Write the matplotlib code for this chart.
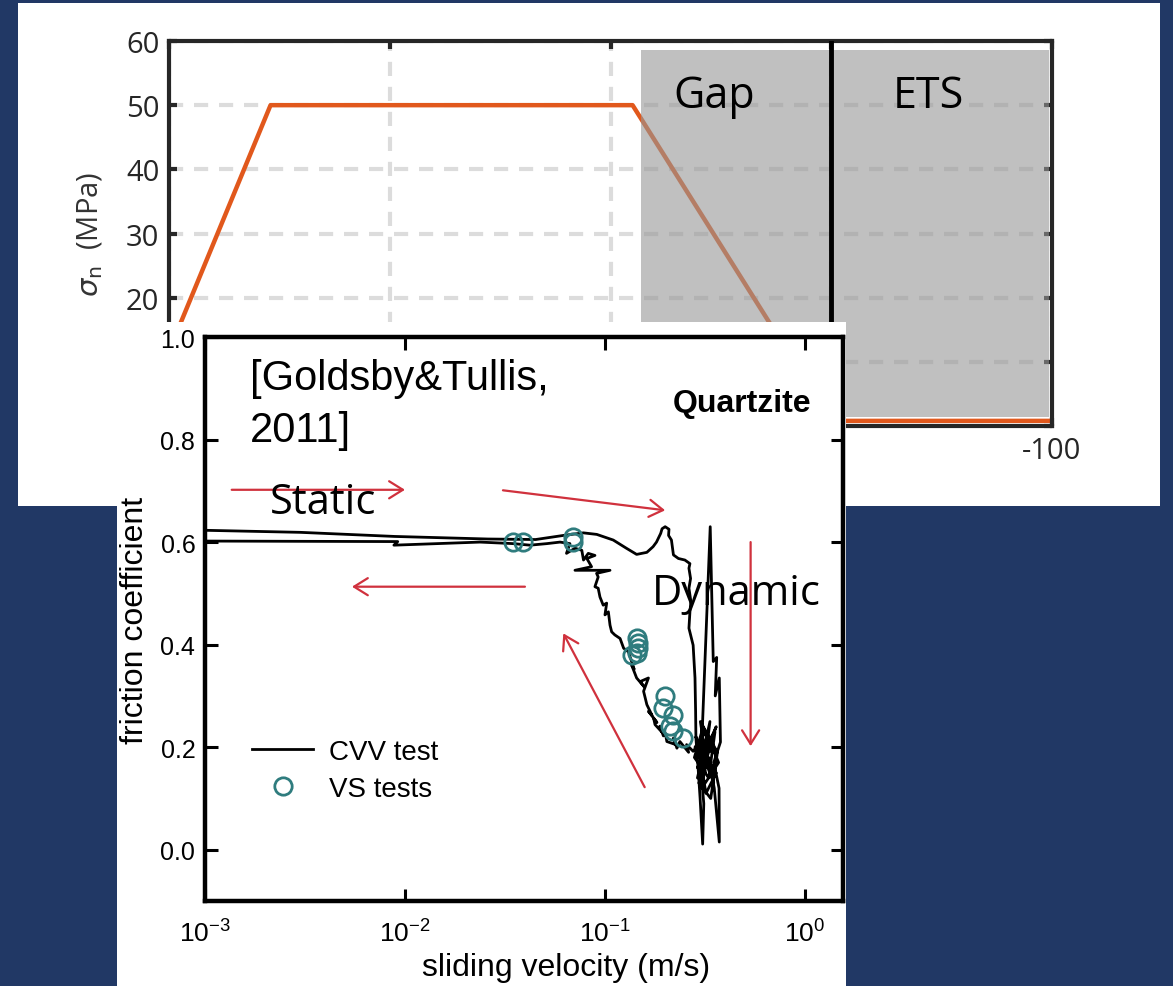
import matplotlib.pyplot as plt
from matplotlib.patches import Rectangle
from matplotlib.ticker import NullLocator, FormatStrFormatter

plt.rcParams['font.family'] = ['Liberation Sans', 'DejaVu Sans']
plt.rcParams['mathtext.default'] = 'regular'

# ---- upper panel: normal stress profile ----
sn_x = [314, 254, 90, 0, -100]
sn_y = [0, 50, 50, 0.8, 0.8]
sn_xticks = [300, 200, 100, 0, -100]
# labels covered by the lower figure are left blank
sn_xticklabels = ['', '', '', '0', '-100']
sn_yticks = [0, 10, 20, 30, 40, 50, 60]
sn_yticklabels = ['', '', '20', '30', '40', '50', '60']
gap_x = [86, -98.6]
gap_y = [1.4, 58.6]

# ---- lower panel: Goldsby & Tullis 2011, quartzite ----
# CVV test trace: acceleration branch, slip burst, deceleration branch
accel_v = [0.001, 0.003, 0.0089, 0.026, 0.045, 0.062, 0.078, 0.091, 0.110, 0.128,
           0.144, 0.162, 0.174, 0.181, 0.190, 0.193, 0.200, 0.209, 0.208, 0.215,
           0.220, 0.233, 0.251, 0.266, 0.263, 0.268, 0.263, 0.269, 0.266, 0.263,
           0.276, 0.282, 0.284, 0.285, 0.293, 0.299, 0.304, 0.308]
accel_mu = [0.623, 0.619, 0.611, 0.606, 0.605, 0.613, 0.618, 0.615, 0.604, 0.588,
            0.576, 0.580, 0.591, 0.600, 0.617, 0.626, 0.630, 0.625, 0.613, 0.604,
            0.575, 0.568, 0.565, 0.558, 0.549, 0.529, 0.510, 0.484, 0.464, 0.432,
            0.399, 0.335, 0.270, 0.218, 0.153, 0.101, 0.049, 0.011]
slip_v = [0.312, 0.300, 0.318, 0.305, 0.336, 0.348, 0.362, 0.356, 0.373, 0.378,
          0.350, 0.372, 0.373, 0.352, 0.330, 0.290, 0.340, 0.300, 0.360, 0.320,
          0.290, 0.345, 0.310, 0.280, 0.330, 0.355, 0.295, 0.338, 0.365, 0.300,
          0.325, 0.285, 0.350, 0.315, 0.360, 0.290, 0.335, 0.305, 0.370, 0.320,
          0.282, 0.345, 0.298, 0.276]
slip_mu = [0.090, 0.170, 0.150, 0.210, 0.630, 0.367, 0.375, 0.300, 0.335, 0.210,
           0.170, 0.120, 0.015, 0.120, 0.180, 0.160, 0.220, 0.200, 0.150, 0.110,
           0.210, 0.190, 0.240, 0.180, 0.140, 0.230, 0.130, 0.100, 0.190, 0.250,
           0.160, 0.220, 0.130, 0.190, 0.240, 0.140, 0.250, 0.120, 0.170, 0.230,
           0.200, 0.160, 0.210, 0.192]
decel_v = [0.256, 0.262, 0.237, 0.229, 0.220, 0.226, 0.204, 0.200, 0.196, 0.188,
           0.192, 0.178, 0.175, 0.182, 0.165, 0.172, 0.162, 0.156, 0.165, 0.150,
           0.157, 0.144, 0.136, 0.140, 0.131, 0.124, 0.119, 0.112, 0.108, 0.106,
           0.104, 0.100, 0.102, 0.098, 0.0944, 0.0925, 0.0891, 0.0925, 0.0908, 0.106,
           0.0708, 0.0857, 0.0812, 0.0891, 0.0825, 0.0781, 0.0766, 0.0708, 0.0642, 0.0668,
           0.0596, 0.0512, 0.0422, 0.0348, 0.0237, 0.0088, 0.0092, 0.001]
decel_mu = [0.205, 0.190, 0.211, 0.198, 0.218, 0.205, 0.211, 0.228, 0.222, 0.241,
            0.230, 0.244, 0.257, 0.248, 0.270, 0.262, 0.283, 0.309, 0.335, 0.328,
            0.318, 0.335, 0.360, 0.352, 0.386, 0.393, 0.412, 0.419, 0.425, 0.438,
            0.464, 0.458, 0.481, 0.477, 0.493, 0.510, 0.513, 0.532, 0.539, 0.545,
            0.545, 0.552, 0.568, 0.574, 0.578, 0.565, 0.584, 0.588, 0.578, 0.597,
            0.600, 0.597, 0.594, 0.597, 0.600, 0.594, 0.601, 0.602]
cvv_v = accel_v + slip_v + decel_v
cvv_mu = accel_mu + slip_mu + decel_mu

# VS tests
vs_v = [0.0348, 0.0391, 0.0695, 0.0695, 0.144, 0.146, 0.146, 0.144, 0.136,
        0.200, 0.195, 0.218, 0.211, 0.218, 0.246]
vs_mu = [0.600, 0.600, 0.610, 0.600, 0.412, 0.403, 0.393, 0.383, 0.380,
         0.299, 0.276, 0.263, 0.241, 0.231, 0.218]

# red path arrows: (start, end) in (velocity, friction)
arrow_paths = [
    ((0.00136, 0.702), (0.0100, 0.702)),
    ((0.0309, 0.701), (0.200, 0.662)),
    ((0.0398, 0.513), (0.00543, 0.513)),
    ((0.535, 0.600), (0.535, 0.202)),
    ((0.158, 0.122), (0.0619, 0.422)),
]

navy = '#213865'
orange = '#e1581c'
teal = '#2f7c7e'
red = '#d0313d'
W, H = 1173, 987


def px_rect(x0, y0, x1, y1):
    return [x0 / W, 1 - y1 / H, (x1 - x0) / W, (y1 - y0) / H]


fig = plt.figure(figsize=(W / 100, H / 100), dpi=100)
fig.patch.set_facecolor(navy)

# white background of the upper figure
r = px_rect(18, 4, 1160, 507)
fig.add_artist(Rectangle((r[0], r[1]), r[2], r[3], transform=fig.transFigure,
                         facecolor='white', edgecolor='none', zorder=0.5))

ax1 = fig.add_axes(px_rect(169, 42, 1052, 427))
ax1.set_zorder(1)
ax1.plot(sn_x, sn_y, color=orange, lw=3.2, zorder=2)
ax1.add_patch(Rectangle((gap_x[0], gap_y[0]), gap_x[1] - gap_x[0], gap_y[1] - gap_y[0],
                        facecolor='#969696', alpha=0.6, edgecolor='none', zorder=3))
ax1.axvline(0, color='black', lw=3.5, zorder=4)
ax1.set_xlim(300, -100)
ax1.set_ylim(0, 60)
ax1.set_xticks(sn_xticks)
ax1.set_xticklabels(sn_xticklabels)
ax1.set_yticks(sn_yticks)
ax1.set_yticklabels(sn_yticklabels)
ax1.grid(True, color='#dcdcdc', lw=3, ls=(0, (3.4, 2.6)))
ax1.set_axisbelow(True)
for s in ax1.spines.values():
    s.set_linewidth(3)
    s.set_color('#262626')
ax1.tick_params(direction='in', length=6, width=3, color='#262626', top=True, right=True,
                labelsize=21, labelcolor='#262626', pad=7, labelfontfamily='Open Sans')
ax1.set_ylabel(r'$\mathit{\sigma}_{\mathrm{n}}$  (MPa)', fontsize=21, color='#333333',
               family='Open Sans', va='center')
ax1.yaxis.set_label_coords(-0.0895, 0.5)
ax1.text(0.617, 0.829, 'Gap', transform=ax1.transAxes, ha='center', va='baseline',
         fontsize=31, family='Open Sans', zorder=5)
ax1.text(0.860, 0.829, 'ETS', transform=ax1.transAxes, ha='center', va='baseline',
         fontsize=31, family='Open Sans', zorder=5)

# white background of the lower (pasted) figure
r = px_rect(117, 323, 846, 987)
fig.add_artist(Rectangle((r[0], r[1]), r[2], r[3], transform=fig.transFigure,
                         facecolor='white', edgecolor='none', zorder=2))

ax2 = fig.add_axes(px_rect(205, 338, 843, 902))
ax2.set_zorder(3)
ax2.set_xscale('log')
ax2.plot(cvv_v, cvv_mu, color='black', lw=2.0, label='CVV test')
ax2.plot(vs_v, vs_mu, ls='none', marker='o', ms=12.5, mfc='none', mec=teal, mew=2,
         label='VS tests')
for (x0, y0), (x1, y1) in arrow_paths:
    ax2.annotate('', xy=(x1, y1), xytext=(x0, y0),
                 arrowprops=dict(arrowstyle='->,head_length=0.45,head_width=0.28',
                                 color=red, lw=1.6, shrinkA=0, shrinkB=0,
                                 mutation_scale=22))
ax2.set_xlim(1e-3, 1.55)
ax2.set_ylim(-0.1, 1.0)
ax2.set_xticks([1e-3, 1e-2, 1e-1, 1])
ax2.xaxis.set_minor_locator(NullLocator())
ax2.set_yticks([0, 0.2, 0.4, 0.6, 0.8, 1.0])
ax2.yaxis.set_major_formatter(FormatStrFormatter('%.1f'))
for s in ax2.spines.values():
    s.set_linewidth(3.2)
    s.set_color('black')
ax2.tick_params(direction='in', length=9, width=2.2, top=True, right=True,
                labelsize=18, pad=7)
ax2.tick_params(axis='x', labelsize=19, pad=13)
ax2.set_xlabel('sliding velocity (m/s)', fontsize=23, va='center')
ax2.xaxis.set_label_coords(0.566, -0.117)
ax2.set_ylabel('friction coefficient', fontsize=23, va='center')
ax2.yaxis.set_label_coords(-0.110, 0.5)

ax2.text(0.0705, 0.908, '[Goldsby&Tullis,', transform=ax2.transAxes, fontsize=30,
         va='baseline')
ax2.text(0.0705, 0.816, '2011]', transform=ax2.transAxes, fontsize=30, va='baseline')
ax2.text(0.950, 0.869, 'Quartzite', transform=ax2.transAxes, fontsize=23,
         fontweight='bold', ha='right', va='baseline')
ax2.text(0.185, 0.688, 'Static', transform=ax2.transAxes, fontsize=30,
         family='Open Sans', ha='center', va='baseline')
ax2.text(0.832, 0.527, 'Dynamic', transform=ax2.transAxes, fontsize=30,
         family='Open Sans', ha='center', va='baseline')

ax2.legend(loc='center left', bbox_to_anchor=(0.074, 0.232), frameon=False, fontsize=20,
           handlelength=2.2, handletextpad=0.55, labelspacing=0.4, borderpad=0,
           borderaxespad=0, numpoints=1)

fig.savefig('out.png', dpi=100, facecolor=navy)
